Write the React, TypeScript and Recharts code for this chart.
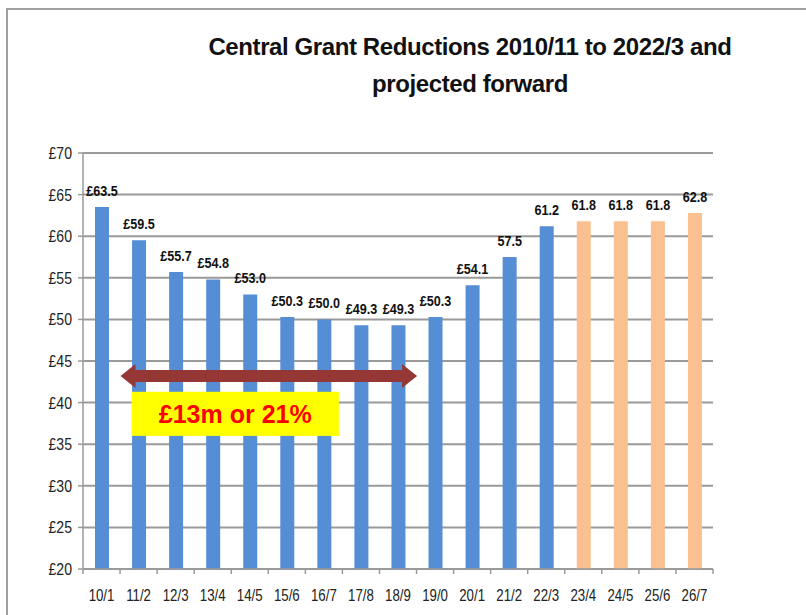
import React from 'react';
import {
  BarChart, Bar, Cell, XAxis, YAxis, CartesianGrid, LabelList, ReferenceLine
} from 'recharts';

const years = ['10/1', '11/2', '12/3', '13/4', '14/5', '15/6', '16/7', '17/8', '18/9',
  '19/0', '20/1', '21/2', '22/3', '23/4', '24/5', '25/6', '26/7'];
const grant = [63.5, 59.5, 55.7, 54.8, 53.0, 50.3, 50.0, 49.3, 49.3, 50.3, 54.1, 57.5,
  61.2, 61.8, 61.8, 61.8, 62.8];
const grantLabels = ['£63.5', '£59.5', '£55.7', '£54.8', '£53.0', '£50.3', '£50.0', '£49.3',
  '£49.3', '£50.3', '£54.1', '57.5', '61.2', '61.8', '61.8', '61.8', '62.8'];
const projected = [false, false, false, false, false, false, false, false, false,
  false, false, false, false, true, true, true, true];
const yTicks = [20, 25, 30, 35, 40, 45, 50, 55, 60, 65, 70];

const chartData = years.map((name, i) => ({
  name,
  valor: grant[i],
  label: grantLabels[i],
  projected: projected[i],
}));

const FONT = '"Liberation Sans", Arial, sans-serif';
const GREY = '#9a9a9a';

// tick de categoria: texto no centro, tracinho na fronteira da banda
const XTick = (props: any) => {
  const { x, y, payload, index } = props;
  const half = payload?.offset || 18.5;
  const axisY = y - 5;
  return (
    <g>
      <line x1={x - half} y1={axisY} x2={x - half} y2={axisY + 5} stroke={GREY} strokeWidth={1.5} />
      {index === years.length - 1 && (
        <line x1={x + half} y1={axisY} x2={x + half} y2={axisY + 5} stroke={GREY} strokeWidth={1.5} />
      )}
      <g transform={`translate(${x},${axisY + 32}) scale(0.78,1)`}>
        <text x={0} y={0} textAnchor="middle" fontSize={17} fontFamily={FONT} fill="#222">
          {payload.value}
        </text>
      </g>
    </g>
  );
};

const YTick = (props: any) => {
  const { x, y, payload } = props;
  return (
    <g transform={`translate(${x},${y + 6}) scale(0.88,1)`}>
      <text x={0} y={0} textAnchor="end" fontSize={16} fontFamily={FONT} fill="#222">
        {`£${payload.value}`}
      </text>
    </g>
  );
};

const DataLabel = (props: any) => {
  const { x, y, width, value } = props;
  return (
    <g transform={`translate(${x + width / 2},${y - 11}) scale(0.9,1)`}>
      <text x={0} y={0} textAnchor="middle" fontSize={14} fontWeight="bold" fontFamily={FONT} fill="#111">
        {value}
      </text>
    </g>
  );
};

// seta dupla da anotação
const Arrow = (props: any) => {
  const { x1, y1, x2 } = props;
  const left = x1 + 19;
  const right = x2 - 18;
  const y = y1;
  const shaft = 6;
  const head = 12;
  const len = 15;
  const pts = [
    [left, y],
    [left + len, y - head],
    [left + len, y - shaft],
    [right - len, y - shaft],
    [right - len, y - head],
    [right, y],
    [right - len, y + head],
    [right - len, y + shaft],
    [left + len, y + shaft],
    [left + len, y + head],
  ].map(p => p.join(',')).join(' ');
  return <polygon points={pts} fill="#953735" />;
};

// caixa amarela: segmento diagonal usado como canto a canto
const NoteBox = (props: any) => {
  const { x1, y1, x2, y2 } = props;
  const bx = x1 - 7;
  const bw = x2 + 15 - bx;
  const h = y2 - y1;
  return (
    <g>
      <rect x={bx} y={y1} width={bw} height={h} fill="#ffff00" />
      <text x={bx + bw / 2} y={y1 + h / 2 + 9} textAnchor="middle" fontSize={25}
        fontWeight="bold" fontFamily={FONT} fill="#ff0000">
        £13m or 21%
      </text>
    </g>
  );
};

const App: React.FC = () => {
  return (
    <div style={{ position: 'absolute', left: 0, top: 0, width: 806, height: 615, overflow: 'hidden', background: '#fff' }}>
      <div style={{
        position: 'absolute', left: 6, top: 8, width: 900, height: 700,
        borderLeft: '2px solid #a0a0a0', borderTop: '2px solid #a0a0a0'
      }} />
      <div style={{
        position: 'absolute', left: 170, top: 28, width: 600, textAlign: 'center',
        fontFamily: FONT, fontWeight: 'bold', fontSize: 24, lineHeight: '37px', color: '#111',
        letterSpacing: '-0.4px'
      }}>
        Central Grant Reductions 2010/11 to 2022/3 and<br />projected forward
      </div>
      <div style={{ position: 'absolute', left: 0, top: 0 }}>
        <BarChart
          width={806}
          height={615}
          data={chartData}
          margin={{ top: 153, right: 93, left: 0, bottom: 0 }}
          barCategoryGap={0}
        >
          <CartesianGrid vertical={false} stroke={GREY} strokeWidth={2} />
          <XAxis
            dataKey="name"
            height={46}
            axisLine={{ stroke: GREY, strokeWidth: 1.5 }}
            tickLine={false}
            tickSize={5}
            tickMargin={0}
            interval={0}
            tick={<XTick />}
          />
          <YAxis
            width={83}
            domain={[20, 70]}
            ticks={yTicks}
            interval={0}
            axisLine={{ stroke: GREY, strokeWidth: 1.5 }}
            tickLine={{ stroke: GREY, strokeWidth: 1.5 }}
            tickSize={5}
            tickMargin={6}
            tick={<YTick />}
          />
          <Bar dataKey="valor" barSize={14} isAnimationActive={false}>
            {chartData.map((entry, index) => (
              <Cell key={`cell-${index}`} fill={entry.projected ? '#fac090' : '#558ed5'} />
            ))}
            <LabelList dataKey="label" content={<DataLabel />} />
          </Bar>
          <ReferenceLine
            segment={[{ x: '10/1', y: 43.2 }, { x: '19/0', y: 43.2 }]}
            shape={<Arrow />}
            ifOverflow="visible"
          />
          <ReferenceLine
            segment={[{ x: '11/2', y: 41.3 }, { x: '16/7', y: 36 }]}
            shape={<NoteBox />}
            ifOverflow="visible"
          />
        </BarChart>
      </div>
    </div>
  );
};

export default App;
